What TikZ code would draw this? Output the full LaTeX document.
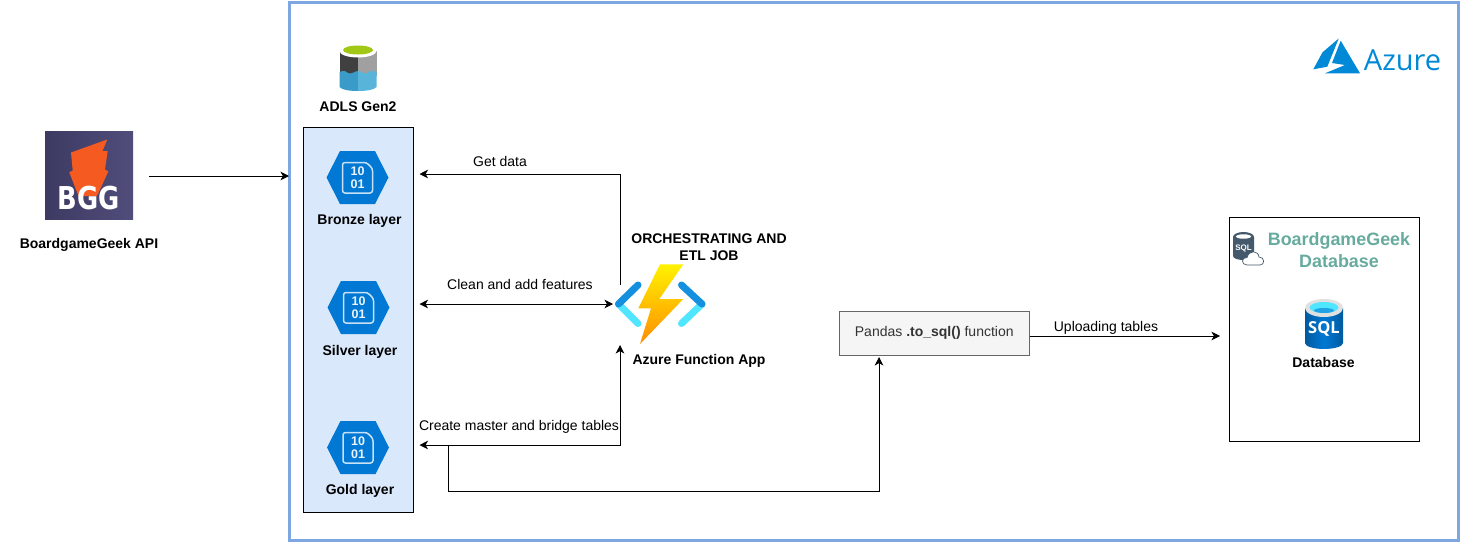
\documentclass[tikz,border=0pt]{standalone}
\usepackage{fontspec}
\setmainfont{Liberation Sans}
\newfontfamily\azfont{Open Sans}
\newfontfamily\djfont{DejaVu Sans}
\usetikzlibrary{arrows.meta,shapes.geometric}
\definecolor{azureline}{HTML}{7EA6E0}
\definecolor{adlsfill}{HTML}{DAE8FC}
\definecolor{hexblue}{HTML}{0078D4}
\definecolor{azlogo}{HTML}{0089D6}
\definecolor{titlegreen}{HTML}{67AB9F}
\definecolor{bggdark}{HTML}{474474}
\definecolor{bggorange}{HTML}{F55A20}
\definecolor{slate}{HTML}{44596B}
\definecolor{fnup}{HTML}{1490DF}
\definecolor{fnlow}{HTML}{50E6FF}
\definecolor{cylgreen}{HTML}{A0C814}
\definecolor{cyldark}{HTML}{404040}
\definecolor{cylgrey}{HTML}{A0A0A0}
\definecolor{cylblueA}{HTML}{3A9BC9}
\definecolor{cylblueB}{HTML}{59B4D9}
\tikzset{
  lbl/.style={inner sep=0pt,font=\fontsize{14}{16}\selectfont,text=black},
  blbl/.style={inner sep=0pt,text=black,font=\fontsize{14}{17}\selectfont\bfseries,align=center},
  conn/.style={draw=black,line width=0.9pt,-{Stealth[length=8.5pt,width=8.5pt,inset=2.4pt]}},
  conn2/.style={conn,{Stealth[length=8.5pt,width=8.5pt,inset=2.4pt]}-{Stealth[length=8.5pt,width=8.5pt,inset=2.4pt]}},
  spot/.style={inner sep=0pt,outer sep=0pt,minimum size=0pt},
}
\newcommand{\datahex}[2]{%
  \begin{scope}[shift={(#1,#2)}]
    \fill[hexblue] (-31,0)--(-17.5,-26.5)--(17.5,-26.5)--(31,0)--(17.5,26.5)--(-17.5,26.5)--cycle;
    \draw[white!78!hexblue,line width=1.5pt,rounded corners=2.5pt]
      (-15,-15)--(9,-15)--(15,-9)--(15,15.5)--(-15,15.5)--cycle;
    \node[inner sep=0pt,text=white!92!hexblue,font=\fontsize{12.5}{12.5}\selectfont\bfseries,align=center] at (0,0.3) {10\\01};
  \end{scope}}
\begin{document}
\begin{tikzpicture}[x=1pt,y=-1pt]
\useasboundingbox (0,0) rectangle (1462,544);
\fill[white] (0,0) rectangle (1462,544);
% containers
\node[spot,draw=azureline,line width=3pt,fill=white,minimum width=1169pt,minimum height=538pt] (azurebox) at (874,271.5) {};
\node[spot,draw=black,line width=0.9pt,fill=adlsfill,minimum width=110pt,minimum height=385pt] (adls) at (358,319.5) {};
\node[spot,draw=black,line width=0.9pt,fill=white,minimum width=190pt,minimum height=224pt] (dbbox) at (1324,329) {};
\node[spot,draw=black!60,line width=0.9pt,fill=black!4,minimum width=190.5pt,minimum height=44pt,text=black!80,font=\fontsize{14}{16}\selectfont] (pandas) at (934.25,333) {Pandas \textbf{.to\_sql()} function};
% BGG logo
\node[spot,left color=bggdark!85!black,right color=bggdark!95!white,minimum width=88pt,minimum height=88pt] (bgg) at (89,175) {};
\fill[bggorange] (107.3,139.5)--(71,152.5)--(72.7,170.5)--(69.3,172.3)--(78.5,196)--(97,196)--(108.3,171.5)--(105,169.5)--(107.7,151)--(102.5,151)--cycle;
\node[inner sep=0pt,text=white,font=\djfont\fontsize{31.5}{32}\selectfont\bfseries,xscale=.82] (bggtext) at (89,198.5) {BGG};
\node[blbl] (bgglabel) at (89,244.5) {BoardgameGeek API};
% ADLS cylinder
\fill[cyldark] (339.5,51) rectangle (358,76);
\fill[cylgrey] (358,51) rectangle (376.5,76);
\fill[cylblueA] (339.5,72) .. controls (344,70) and (346,71) .. (348,73) .. controls (351,75) and (355,71) .. (358,71) -- (358,91) .. controls (350,91) and (342,90) .. (339.5,87) -- cycle;
\fill[cylblueB] (358,71) .. controls (362,71) and (364,75) .. (367,73) .. controls (370,70) and (373,71) .. (376.5,72) -- (376.5,87) .. controls (374,90) and (366,91) .. (358,91) -- cycle;
\fill[white] (358,51) ellipse[x radius=18.5,y radius=6.5];
\fill[cylgreen] (358,50) ellipse[x radius=15,y radius=4.5];
\node[blbl] (adlslabel) at (358,107) {ADLS Gen2};
% hexagons
\datahex{357.5}{177.5}
\datahex{358.5}{307.5}
\datahex{358}{447.5}
\node[blbl] (bronze) at (359.5,220.5) {Bronze layer};
\node[blbl] (silver) at (360,351.5) {Silver layer};
\node[blbl] (gold) at (360,490.5) {Gold layer};
% Function icon
\node[spot,minimum width=94pt,minimum height=84pt] (fn) at (660,304) {};
\draw[fnlow,line width=7pt,line cap=round] (618.5,304)--(638,323.5);
\draw[fnup,line width=7pt,line cap=round] (618.5,304)--(638,285);
\draw[fnlow,line width=7pt,line cap=round] (702,304)--(681.5,323.5);
\draw[fnup,line width=7pt,line cap=round] (702,304)--(681.5,285);
\shade[top color=yellow!90!orange,bottom color=orange!90!yellow] (660,264.3)--(683.3,264.3)--(659.3,299)--(683.3,299)--(640,344)--(651,308.3)--(638.3,308.3)--cycle;
\node[blbl] (orch) at (709,247.5) {ORCHESTRATING AND\\ETL JOB};
\node[blbl] (fnlabel) at (699,360.5) {Azure Function App};
% Azure logo
\fill[azlogo] (1338.7,38.5)--(1322.5,52.3)--(1313.3,69.3)--(1327.3,66.7)--cycle;
\fill[azlogo] (1340.7,40.7)--(1332,63)--(1345,65)--(1325,73.3)--(1360,73.3)--cycle;
\node[inner sep=0pt,text=azlogo,font=\azfont\fontsize{29}{30}\selectfont] (azurelabel) at (1402.5,60) {Azure};
% DB box contents
\node[inner sep=0pt,text=titlegreen,align=center,font=\fontsize{17.9}{22}\selectfont\bfseries] (dbtitle) at (1339,250) {BoardgameGeek\\Database};
\fill[slate] (1233,237) -- (1254,237) -- (1254,256) arc[x radius=10.5,y radius=4,start angle=0,end angle=180] -- cycle;
\fill[slate] (1243.5,237) ellipse[x radius=10.5,y radius=5];
\fill[white] (1243.5,236.5) ellipse[x radius=7.5,y radius=2.2];
\node[inner sep=0pt,text=white,font=\fontsize{8}{9}\selectfont\bfseries] (sqlsmall) at (1243.5,248) {SQL};
\draw[fill=white,draw=slate,line width=0.7pt] (1247,265) .. controls (1241,265) and (1241,257) .. (1247,257.5) .. controls (1249,250) and (1258,250) .. (1259,257) .. controls (1265,257) and (1265,265) .. (1260,265) -- cycle;
\shade[left color=hexblue!75!black,right color=hexblue!75!black,middle color=hexblue] (1305,308) -- (1343,308) -- (1343,343) arc[x radius=19,y radius=6,start angle=0,end angle=180] -- cycle;
\fill[black!12] (1324,308) ellipse[x radius=19,y radius=9];
\fill[fnlow] (1324,307.5) ellipse[x radius=14.5,y radius=5.5];
\fill[hexblue!60!fnlow] (1324,310.5) ellipse[x radius=10,y radius=2.5];
\node[inner sep=0pt,text=white,font=\azfont\fontsize{16.5}{20}\selectfont\bfseries] (sqlbig) at (1324,328.5) {SQL};
\node[blbl] (dblabel) at (1323.5,362.5) {Database};
% edge labels
\node[lbl] (getdata) at (500,161.5) {Get data};
\node[lbl] (clean) at (520,284.5) {Clean and add features};
\node[lbl] (create) at (519,427) {Create master and bridge tables};
\node[lbl] (upload) at (1106,327.5) {Uploading tables};
% free connector ends
\coordinate (bggout) at (149,176);
\coordinate (azin) at (289,176);
\coordinate (adlsB) at (419.5,174);
\coordinate (adlsS) at (419.5,304);
\coordinate (adlsG) at (419.5,445);
\coordinate (fnTop) at (620,285);
\coordinate (fnLeft) at (613,304);
\coordinate (fnBot) at (620,345);
\coordinate (branch) at (448.7,445);
\coordinate (pandasIn) at (879,357);
\coordinate (dbIn) at (1220,336);
% connectors
\draw[conn] (bggout)--(azin);
\draw[conn] (fnTop)--(fnTop|-adlsB)--(adlsB);
\draw[conn2] (adlsS)--(fnLeft);
\draw[conn2] (adlsG)--(fnBot|-adlsG)--(fnBot);
\draw[conn] (branch)--(448.7,491)--(pandasIn|-0,491)--(pandasIn);
\draw[conn] (pandas.east|-dbIn)--(dbIn);
\end{tikzpicture}
\end{document}
